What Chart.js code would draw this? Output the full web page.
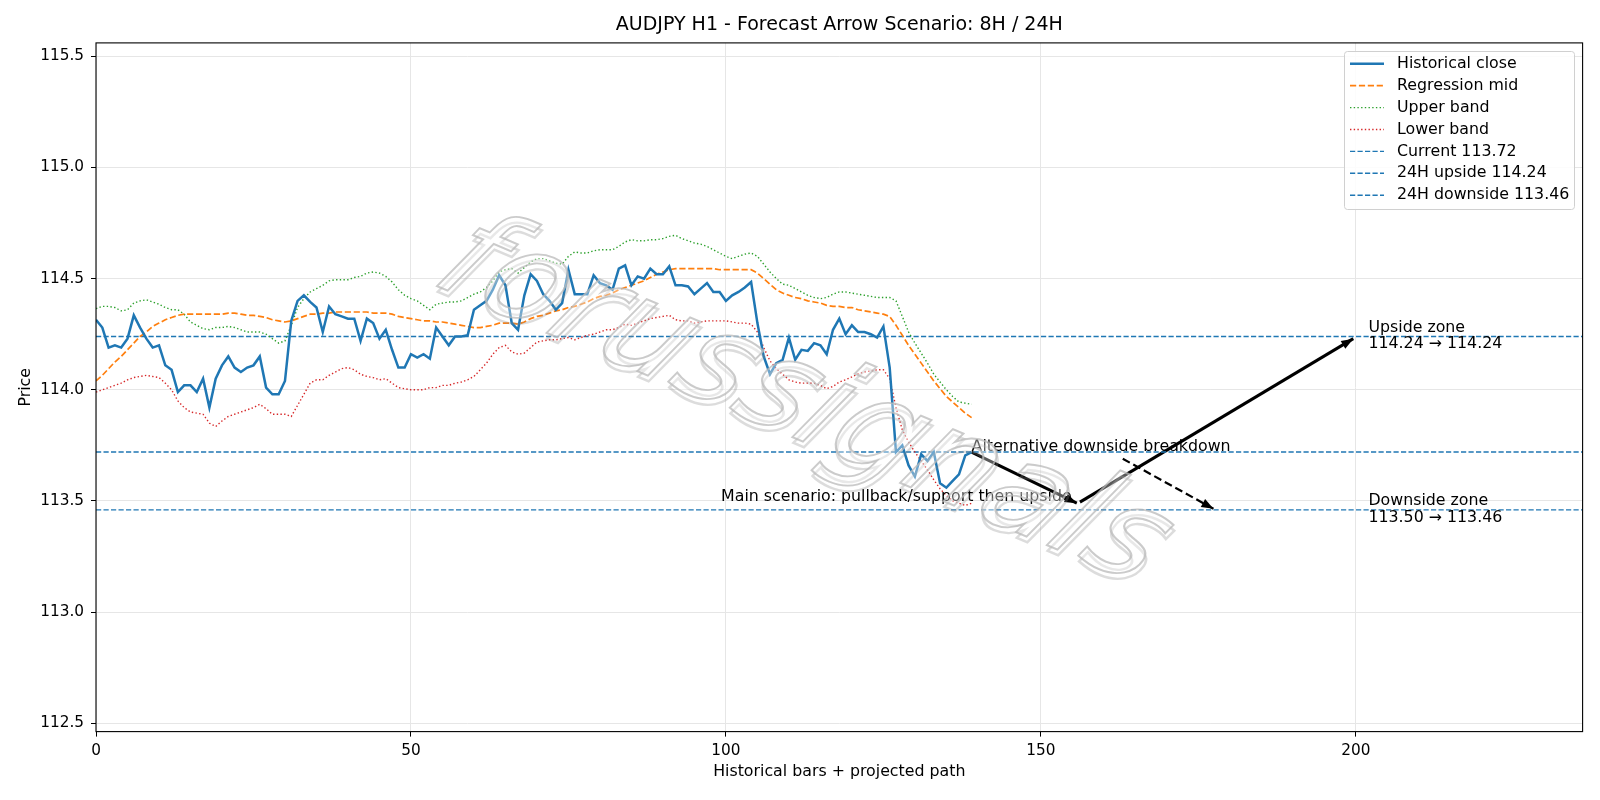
<!DOCTYPE html>
<html>
<head>
<meta charset="utf-8">
<script src="https://cdn.jsdelivr.net/npm/chart.js@4.4.1/dist/chart.umd.min.js"></script>
<style>
html, body { margin: 0; padding: 0; background: #fff; }
</style>
</head>
<body>
<canvas id="myChart" width="1600" height="800"></canvas>
<script>
// values (bar index 0..139)
const closeVals = [
  114.315, 114.28, 114.19, 114.20, 114.19, 114.23, 114.335, 114.28, 114.23, 114.19,
  114.20, 114.11, 114.09, 113.99, 114.02, 114.02, 113.99, 114.05, 113.92, 114.05,
  114.11, 114.15, 114.10, 114.08, 114.10, 114.11, 114.15, 114.01, 113.98, 113.98,
  114.04, 114.31, 114.40, 114.425, 114.395, 114.37, 114.26, 114.375, 114.34, 114.33,
  114.32, 114.32, 114.22, 114.32, 114.30, 114.23, 114.27, 114.18, 114.10, 114.10,
  114.16, 114.145, 114.16, 114.14, 114.28, 114.24, 114.20, 114.24, 114.24, 114.245,
  114.36, 114.38, 114.40, 114.45, 114.515, 114.47, 114.30, 114.27, 114.425, 114.52,
  114.49, 114.43, 114.40, 114.36, 114.39, 114.54, 114.43, 114.43, 114.43, 114.515,
  114.48, 114.47, 114.45, 114.545, 114.56, 114.47, 114.51, 114.50, 114.545, 114.52,
  114.52, 114.555, 114.47, 114.47, 114.465, 114.43, 114.455, 114.48, 114.44, 114.44,
  114.40, 114.425, 114.44, 114.46, 114.485, 114.30, 114.15, 114.07, 114.12, 114.135,
  114.235, 114.135, 114.18, 114.175, 114.21, 114.20, 114.16, 114.27, 114.32, 114.25,
  114.29, 114.26, 114.26, 114.25, 114.235, 114.285, 114.10, 113.72, 113.75, 113.66,
  113.61, 113.71, 113.68, 113.72, 113.58, 113.56, 113.59, 113.62, 113.705, 113.72
];
const midVals = [
  114.04, 114.065, 114.095, 114.125, 114.15, 114.18, 114.21, 114.24, 114.26, 114.285,
  114.30, 114.315, 114.325, 114.335, 114.34, 114.34, 114.34, 114.34, 114.34, 114.34,
  114.34, 114.345, 114.345, 114.34, 114.335, 114.335, 114.33, 114.325, 114.315, 114.31,
  114.305, 114.31, 114.32, 114.33, 114.34, 114.34, 114.345, 114.345, 114.35, 114.35,
  114.35, 114.35, 114.35, 114.35, 114.345, 114.345, 114.345, 114.34, 114.33, 114.325,
  114.32, 114.315, 114.31, 114.31, 114.305, 114.305, 114.30, 114.295, 114.29, 114.285,
  114.28, 114.28, 114.285, 114.29, 114.30, 114.30, 114.30, 114.295, 114.305, 114.32,
  114.33, 114.335, 114.345, 114.355, 114.36, 114.37, 114.375, 114.385, 114.395, 114.41,
  114.42, 114.425, 114.435, 114.45, 114.46, 114.47, 114.48, 114.49, 114.505, 114.52,
  114.53, 114.54, 114.545, 114.545, 114.545, 114.545, 114.545, 114.545, 114.545, 114.54,
  114.54, 114.54, 114.54, 114.54, 114.54, 114.525, 114.50, 114.475, 114.45, 114.435,
  114.425, 114.415, 114.41, 114.40, 114.395, 114.39, 114.38, 114.375, 114.375, 114.37,
  114.37, 114.36, 114.355, 114.35, 114.345, 114.34, 114.33, 114.29, 114.245, 114.20,
  114.16, 114.12, 114.08, 114.04, 114.005, 113.97, 113.945, 113.92, 113.895, 113.875
];
const upperVals = [
  114.365, 114.375, 114.375, 114.37, 114.355, 114.36, 114.39, 114.40, 114.405, 114.395,
  114.385, 114.37, 114.36, 114.36, 114.34, 114.305, 114.29, 114.275, 114.27, 114.28,
  114.28, 114.285, 114.28, 114.27, 114.26, 114.26, 114.26, 114.25, 114.23, 114.21,
  114.22, 114.29, 114.37, 114.41, 114.44, 114.455, 114.47, 114.49, 114.495, 114.495,
  114.495, 114.505, 114.51, 114.525, 114.53, 114.525, 114.51, 114.485, 114.45, 114.425,
  114.41, 114.40, 114.38, 114.36, 114.385, 114.39, 114.395, 114.395, 114.40, 114.415,
  114.43, 114.44, 114.46, 114.49, 114.53, 114.54, 114.545, 114.525, 114.55, 114.575,
  114.59, 114.59, 114.58, 114.57, 114.565, 114.60, 114.62, 114.615, 114.615, 114.625,
  114.63, 114.63, 114.63, 114.645, 114.665, 114.675, 114.67, 114.67, 114.675, 114.675,
  114.68, 114.69, 114.695, 114.68, 114.67, 114.66, 114.655, 114.645, 114.63, 114.615,
  114.60, 114.59, 114.60, 114.61, 114.615, 114.60, 114.565, 114.53, 114.50, 114.475,
  114.47, 114.455, 114.44, 114.425, 114.415, 114.41, 114.415, 114.43, 114.44, 114.44,
  114.435, 114.43, 114.425, 114.42, 114.415, 114.415, 114.415, 114.40, 114.33, 114.26,
  114.21, 114.165, 114.12, 114.07, 114.035, 114.00, 113.97, 113.945, 113.94, 113.935
];
const lowerVals = [
  113.99, 114.00, 114.01, 114.02, 114.03, 114.045, 114.055, 114.06, 114.065, 114.06,
  114.055, 114.03, 114.00, 113.95, 113.92, 113.90, 113.895, 113.89, 113.85, 113.835,
  113.86, 113.88, 113.89, 113.90, 113.91, 113.92, 113.935, 113.915, 113.89, 113.89,
  113.89, 113.88, 113.93, 113.98, 114.03, 114.045, 114.045, 114.065, 114.08, 114.095,
  114.10, 114.09, 114.07, 114.06, 114.055, 114.045, 114.05, 114.03, 114.01, 114.005,
  114.00, 114.00, 114.00, 114.01, 114.01, 114.02, 114.02, 114.03, 114.035, 114.045,
  114.06, 114.09, 114.12, 114.16, 114.19, 114.20, 114.17, 114.16, 114.165, 114.19,
  114.215, 114.22, 114.225, 114.225, 114.23, 114.235, 114.225, 114.235, 114.245, 114.25,
  114.26, 114.27, 114.27, 114.28, 114.295, 114.29, 114.30, 114.31, 114.32, 114.325,
  114.33, 114.335, 114.315, 114.31, 114.31, 114.30, 114.305, 114.31, 114.31, 114.31,
  114.31, 114.305, 114.30, 114.30, 114.295, 114.26, 114.19, 114.13, 114.095, 114.07,
  114.045, 114.035, 114.03, 114.03, 114.03, 114.02, 114.005, 114.015, 114.035, 114.045,
  114.058, 114.072, 114.08, 114.085, 114.09, 114.09, 114.05, 113.92, 113.82, 113.765,
  113.72, 113.68, 113.64, 113.595, 113.555, 113.525, 113.50, 113.49, 113.48, 113.49
];

const currentPrice = 113.72;
const upsideLevel = 114.24;
const downsideLevel = 113.46;
const pullbackLevel = 113.50;

// projected arrows [bar, price]
const mainLeg1 = [[139, 113.72], [155.7, 113.49]];
const mainLeg2 = [[156.2, 113.495], [199.6, 114.23]];
const altLeg = [[163, 113.69], [177.4, 113.465]];

const xTicks = [0, 50, 100, 150, 200];
const yTicks = [112.5, 113.0, 113.5, 114.0, 114.5, 115.0, 115.5];
const xMin = 0, xMax = 236;
const yMin = 112.463, yMax = 115.56;

const blue = '#1f77b4';
const toXY = arr => arr.map((v, i) => ({x: i, y: v}));
const hLine = v => [{x: xMin, y: v}, {x: xMax, y: v}];
const pts = leg => leg.map(p => ({x: p[0], y: p[1]}));

Chart.defaults.font.family = '"DejaVu Sans", sans-serif';
Chart.defaults.font.size = 15.3;
Chart.defaults.color = '#000';

const textFont = '15.8px "DejaVu Sans"';

const overlay = {
  id: 'overlay',
  afterDraw(chart) {
    const {ctx, chartArea: a, scales: {x, y}} = chart;
    const px = v => x.getPixelForValue(v);
    const py = v => y.getPixelForValue(v);

    ctx.save();
    ctx.beginPath();
    ctx.rect(a.left, a.top, a.right - a.left, a.bottom - a.top);
    ctx.clip();

    // arrow heads
    const head = (leg, len, w) => {
      const x0 = px(leg[0][0]), y0 = py(leg[0][1]);
      const x1 = px(leg[1][0]), y1 = py(leg[1][1]);
      const ang = Math.atan2(y1 - y0, x1 - x0);
      const c = Math.cos(ang), s = Math.sin(ang);
      ctx.beginPath();
      ctx.moveTo(x1, y1);
      ctx.lineTo(x1 - len * c + w * s, y1 - len * s - w * c);
      ctx.lineTo(x1 - len * c - w * s, y1 - len * s + w * c);
      ctx.closePath();
      ctx.fill();
    };
    ctx.fillStyle = '#000';
    head(mainLeg1, 12, 4.5);
    head(mainLeg2, 12, 4.5);
    head(altLeg, 12, 4.5);

    // annotation texts
    ctx.font = textFont;
    ctx.fillStyle = '#000';
    ctx.textBaseline = 'middle';
    ctx.textAlign = 'left';
    ctx.fillText('Alternative downside breakdown', px(139), py(113.745));
    ctx.textAlign = 'right';
    ctx.fillText('Main scenario: pullback/support then upside', px(154.9), py(113.517));
    ctx.textAlign = 'left';
    ctx.fillText('Upside zone', px(202), py(114.279));
    ctx.fillText(upsideLevel.toFixed(2) + ' \u2192 ' + upsideLevel.toFixed(2), px(202), py(114.205));
    ctx.fillText('Downside zone', px(202), py(113.499));
    ctx.fillText(pullbackLevel.toFixed(2) + ' \u2192 ' + downsideLevel.toFixed(2), px(202), py(113.425));

    // watermark
    ctx.save();
    ctx.translate(802, 405);
    ctx.rotate(23 * Math.PI / 180);
    ctx.transform(1, 0, -0.2, 1, 0, 0);
    ctx.font = 'italic 128px "DejaVu Sans"';
    ctx.textAlign = 'center';
    ctx.textBaseline = 'middle';
    ctx.lineWidth = 2.5;
    ctx.strokeStyle = 'rgba(140,140,140,0.3)';
    ctx.strokeText('forussignals', 4, 5);
    ctx.fillStyle = 'rgba(255,255,255,0.35)';
    ctx.fillText('forussignals', 0, 0);
    ctx.strokeStyle = 'rgba(185,185,185,0.75)';
    ctx.lineWidth = 2;
    ctx.strokeText('forussignals', 0, 0);
    ctx.restore();
    ctx.restore();

    // spines
    ctx.save();
    ctx.strokeStyle = '#000';
    ctx.lineWidth = 1.1;
    ctx.strokeRect(a.left, a.top, a.right - a.left, a.bottom - a.top);
    ctx.restore();

    // legend
    const items = chart.data.datasets.slice(0, 7);
    const lx = 1344, ly = 51, lw = 230, lh = 158;
    ctx.save();
    ctx.fillStyle = 'rgba(255,255,255,0.85)';
    ctx.strokeStyle = '#d0d0d0';
    ctx.lineWidth = 1;
    ctx.beginPath();
    ctx.roundRect(lx + 0.5, ly + 0.5, lw, lh, 3);
    ctx.fill();
    ctx.stroke();
    ctx.font = textFont;
    ctx.textBaseline = 'middle';
    ctx.textAlign = 'left';
    items.forEach((d, i) => {
      const yy = ly + 12.8 + i * 21.9;
      ctx.strokeStyle = d.borderColor;
      ctx.lineWidth = d.borderWidth;
      ctx.setLineDash(d.borderDash || []);
      ctx.beginPath();
      ctx.moveTo(lx + 6, yy);
      ctx.lineTo(lx + 40, yy);
      ctx.stroke();
      ctx.setLineDash([]);
      ctx.fillStyle = '#000';
      ctx.fillText(d.label, lx + 53, yy);
    });
    ctx.restore();
  }
};

const lineDs = (label, data, color, width, dash) => ({
  label: label, data: data, borderColor: color, borderWidth: width,
  borderDash: dash, pointRadius: 0, tension: 0, fill: false
});

const ctx = document.getElementById('myChart').getContext('2d');
const myChart = new Chart(ctx, {
  type: 'line',
  data: {
    datasets: [
      lineDs('Historical close', toXY(closeVals), blue, 2.5, []),
      lineDs('Regression mid', toXY(midVals), '#ff7f0e', 1.7, [6.2, 2.7]),
      lineDs('Upper band', toXY(upperVals), '#2ca02c', 1.4, [1.4, 2.3]),
      lineDs('Lower band', toXY(lowerVals), '#d62728', 1.4, [1.4, 2.3]),
      lineDs('Current ' + currentPrice.toFixed(2), hLine(currentPrice), blue, 1.4, [5.2, 2.3]),
      lineDs('24H upside ' + upsideLevel.toFixed(2), hLine(upsideLevel), blue, 1.4, [5.2, 2.3]),
      lineDs('24H downside ' + downsideLevel.toFixed(2), hLine(downsideLevel), blue, 1.4, [5.2, 2.3]),
      lineDs('main1', pts(mainLeg1), '#000', 3, []),
      lineDs('main2', pts(mainLeg2), '#000', 3, []),
      lineDs('alt', pts(altLeg), '#000', 2.2, [8, 4])
    ]
  },
  options: {
    responsive: false,
    animation: false,
    devicePixelRatio: 1,
    layout: { padding: { left: 0, right: 17.4, top: 0, bottom: 0 } },
    plugins: {
      legend: { display: false },
      tooltip: { enabled: false },
      title: {
        display: true,
        fullSize: false,
        text: 'AUDJPY H1 - Forecast Arrow Scenario: 8H / 24H',
        font: { size: 19, weight: 'normal' },
        color: '#000',
        padding: { top: 14, bottom: 6.1 }
      }
    },
    scales: {
      x: {
        type: 'linear',
        min: xMin,
        max: xMax,
        afterBuildTicks: s => { s.ticks = xTicks.map(v => ({value: v})); },
        afterFit: s => { s.height = 68.4; },
        ticks: { padding: 5, color: '#000', maxRotation: 0 },
        grid: { color: '#e6e6e6', lineWidth: 1, tickColor: '#000', tickLength: 5 },
        border: { display: false },
        title: {
          display: true, text: 'Historical bars + projected path',
          font: { size: 15.8 },
          padding: { top: 0, bottom: 19 }, color: '#000'
        }
      },
      y: {
        min: yMin,
        max: yMax,
        afterBuildTicks: s => { s.ticks = yTicks.map(v => ({value: v})); },
        afterFit: s => { s.width = 96; },
        ticks: { padding: 7, color: '#000', callback: v => v.toFixed(1) },
        grid: { color: '#e6e6e6', lineWidth: 1, tickColor: '#000', tickLength: 5 },
        border: { display: false },
        title: {
          display: true, text: 'Price',
          font: { size: 15.8 },
          padding: { top: 16, bottom: 0 }, color: '#000'
        }
      }
    }
  },
  plugins: [overlay]
});
</script>
</body>
</html>
